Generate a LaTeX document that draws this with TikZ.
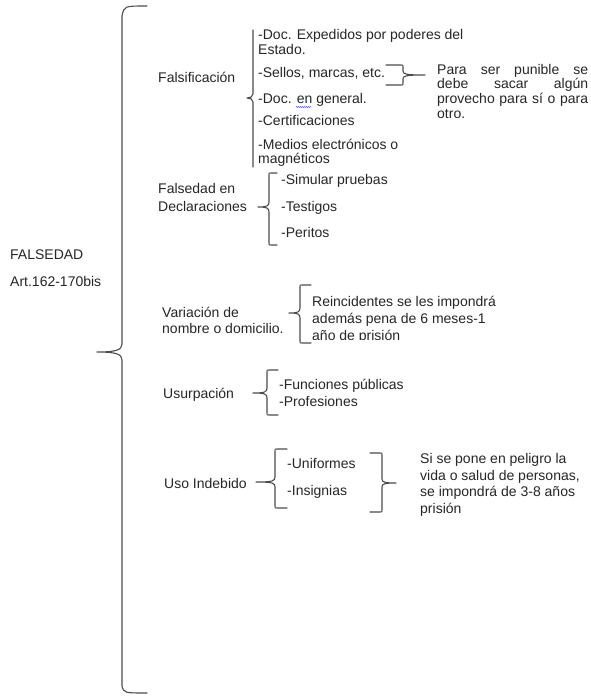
\documentclass[tikz,border=0pt]{standalone}
\usepackage{fontspec}
\setmainfont{Liberation Sans}
\usetikzlibrary{decorations.pathmorphing}

% Brace opening to the right: vertical x, top y, bottom y, tip x, tip y, hook length
\newcommand{\BraceOpen}[6]{%
  \draw[brace] (#1+#6,#2) -- (#1+2,#2) .. controls (#1,#2) .. (#1,#2+2)
    -- (#1,#5-5) .. controls (#1,#5-1) and (#1-2,#5) .. (#4,#5)
    (#4,#5) .. controls (#1-2,#5) and (#1,#5+1) .. (#1,#5+5)
    -- (#1,#3-2) .. controls (#1,#3) .. (#1+2,#3) -- (#1+#6,#3);}
% Brace opening to the left: vertical x, top y, bottom y, tip x, tip y, hook length
\newcommand{\BraceClose}[6]{%
  \draw[brace] (#1-#6,#2) -- (#1-2,#2) .. controls (#1,#2) .. (#1,#2+2)
    -- (#1,#5-4) .. controls (#1,#5-1) and (#1+2,#5) .. (#4,#5)
    (#4,#5) .. controls (#1+2,#5) and (#1,#5+1) .. (#1,#5+4)
    -- (#1,#3-2) .. controls (#1,#3) .. (#1-2,#3) -- (#1-#6,#3);}

\begin{document}
\begin{tikzpicture}[x=1pt,y=-1pt,
  brace/.style={draw=black!70, line width=1.1pt, line cap=round, line join=round},
  lbl/.style={anchor=base west, inner sep=0pt, font=\fontsize{14}{15}\selectfont, text=black!85},
  just/.style={lbl}]
\useasboundingbox (0,0) rectangle (590,698);
\fill[white] (0,0) rectangle (590,698);

% main brace
\draw[brace] (147,6) .. controls (124,6) .. (122,16) -- (122,344)
  .. controls (122,350) and (116,352) .. (97,352)
  (97,352) .. controls (116,352) and (122,354) .. (122,360)
  -- (122,686) .. controls (124,693) .. (147,693);

\node[lbl] (root) at (10,259) {FALSEDAD};
\node[lbl] (art)  at (10,286) {Art.162-170bis};

% Falsificacion
\node[lbl] (fals) at (158,83) {Falsificación};
\draw[brace] (253,30) -- (253,94) .. controls (253,97) and (250,98) .. (247,98)
  .. controls (250,98) and (253,99) .. (253,102) -- (253,167);
\node[lbl] (f1)  at (258,40)  {-Doc. Expedidos por poderes del};
\node[lbl] (f1b) at (258,55)  {Estado.};
\node[lbl] (f2)  at (258,78)  {-Sellos, marcas, etc.};
\node[lbl] (f3)  at (258,104) {-Doc. en general.};
\node[lbl] (f4)  at (258,125) {-Certificaciones};
\node[lbl] (f5)  at (258,149) {-Medios electrónicos o};
\node[lbl] (f5b) at (258,163) {magnéticos};
\draw[blue!55, line width=0.5pt, decorate,
  decoration={zigzag, segment length=2pt, amplitude=0.7pt}] (296,107) -- (311,107);

\BraceClose{403}{65}{85}{425}{75}{17}
\node[lbl] (p1) at (437,75)  {\makebox[151pt][s]{Para ser punible se}};
\node[lbl] (p2) at (437,89)  {\makebox[151pt][s]{debe sacar algún}};
\node[lbl] (p3) at (437,104) {\makebox[151pt][s]{provecho para sí o para}};
\node[lbl] (p4) at (437,119) {otro.};

% Falsedad en declaraciones
\node[lbl] (dec1) at (158,193) {Falsedad en};
\node[lbl] (dec2) at (158,211) {Declaraciones};
\BraceOpen{269}{173}{245}{258}{207}{8}
\node[lbl] (d1) at (281,184) {-Simular pruebas};
\node[lbl] (d2) at (281,211) {-Testigos};
\node[lbl] (d3) at (281,237) {-Peritos};

% Variacion de nombre
\node[lbl] (var1) at (162,317) {Variación de};
\node[lbl] (var2) at (162,333) {nombre o domicilio.};
\BraceOpen{300}{285}{343}{289}{313}{11}
\begin{scope}
  \clip (305,285) rectangle (520,339);
  \node[lbl] (r1) at (312,306) {Reincidentes se les impondrá};
  \node[lbl] (r2) at (312,323) {además pena de 6 meses-1};
  \node[lbl] (r3) at (312,340) {año de prisión};
\end{scope}

% Usurpacion
\node[lbl] (usur) at (163,398) {Usurpación};
\BraceOpen{267}{370}{415}{253}{393}{11}
\node[lbl] (u1) at (279,389) {-Funciones públicas};
\node[lbl] (u2) at (279,406) {-Profesiones};

% Uso indebido
\node[lbl] (uso) at (164,488) {Uso Indebido};
\BraceOpen{275}{449}{508}{256}{482}{12}
\node[lbl] (i1) at (287,468) {-Uniformes};
\node[lbl] (i2) at (287,495) {-Insignias};
\BraceClose{382}{453}{512}{396}{483}{12}
\node[lbl] (s1) at (420,463) {Si se pone en peligro la};
\node[lbl] (s2) at (420,480) {vida o salud de personas,};
\node[lbl] (s3) at (420,496) {se impondrá de 3-8 años};
\node[lbl] (s4) at (420,513) {prisión};
\end{tikzpicture}
\end{document}
